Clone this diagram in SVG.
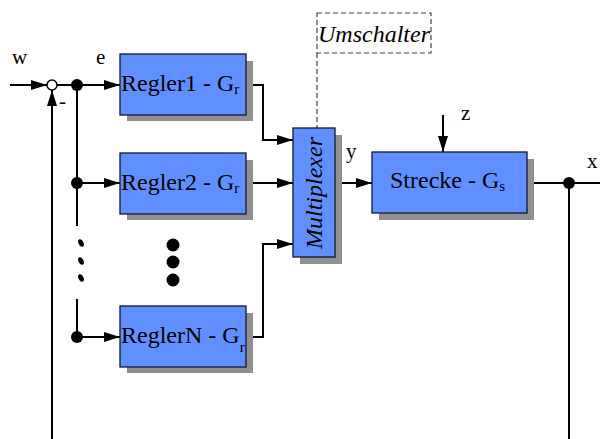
<svg xmlns="http://www.w3.org/2000/svg" width="600" height="439" viewBox="0 0 600 439">
<style>
.box{fill:#6090ff;stroke:#101830;stroke-width:1.3}
.sh{fill:#909090}
.ln{fill:none;stroke:#000;stroke-width:2}
.dash{fill:none;stroke:#444;stroke-width:1.2;stroke-dasharray:5,3}
.t{font-family:"Liberation Serif",serif;font-size:24px;fill:#000}
.lb{font-family:"Liberation Serif",serif;font-size:21px;fill:#000}
.sub{font-size:15px}
</style>
<defs>
<marker id="ah" viewBox="0 0 16 10" refX="16" refY="5" markerWidth="16" markerHeight="10" markerUnits="userSpaceOnUse" orient="auto">
<path d="M0,0 L16,5 L0,10 z" fill="#000"/>
</marker>
</defs>
<rect width="600" height="439" fill="#fff"/>
<g id="connectors">
<line class="ln" x1="10" y1="85" x2="47" y2="85" marker-end="url(#ah)"/>
<line class="ln" x1="52" y1="439" x2="52" y2="90" marker-end="url(#ah)"/>
<line class="ln" x1="57" y1="85" x2="120" y2="85" marker-end="url(#ah)"/>
<line class="ln" x1="77" y1="85" x2="77" y2="226"/>
<line class="ln" x1="77" y1="299" x2="77" y2="337"/>
<line class="ln" x1="77" y1="183" x2="120" y2="183" marker-end="url(#ah)"/>
<line class="ln" x1="77" y1="337" x2="120" y2="337" marker-end="url(#ah)"/>
<polyline class="ln" points="246,85 263,85 263,140 293,140" marker-end="url(#ah)"/>
<line class="ln" x1="246" y1="183" x2="293" y2="183" marker-end="url(#ah)"/>
<polyline class="ln" points="246,337 263,337 263,244 293,244" marker-end="url(#ah)"/>
<line class="ln" x1="335" y1="183" x2="372" y2="183" marker-end="url(#ah)"/>
<line class="ln" x1="443" y1="115" x2="443" y2="152" marker-end="url(#ah)"/>
<line class="ln" x1="527" y1="183" x2="600" y2="183"/>
<line class="ln" x1="569" y1="183" x2="569" y2="439"/>
<line class="dash" x1="317" y1="53" x2="317" y2="128"/>
<circle cx="52" cy="85" r="5" fill="#fff" stroke="#000" stroke-width="1.5"/>
<circle cx="77" cy="85" r="6" fill="#000"/>
<circle cx="77" cy="183" r="6" fill="#000"/>
<circle cx="77" cy="337" r="6" fill="#000"/>
<circle cx="569" cy="183" r="6" fill="#000"/>
<ellipse cx="81" cy="243" rx="2.5" ry="4" transform="rotate(-25 81 243)" fill="#000"/>
<ellipse cx="81" cy="261" rx="2.5" ry="4" transform="rotate(-25 81 261)" fill="#000"/>
<ellipse cx="81" cy="278" rx="2.5" ry="4" transform="rotate(-25 81 278)" fill="#000"/>
<circle cx="173" cy="245" r="6.5" fill="#000"/>
<circle cx="173" cy="262" r="6.5" fill="#000"/>
<circle cx="173" cy="280" r="6.5" fill="#000"/>
</g>
<g id="labels">
<text class="lb" x="12" y="64">w</text>
<text class="lb" x="96" y="64">e</text>
<text class="lb" x="59" y="108">-</text>
<text class="lb" x="346" y="158">y</text>
<text class="lb" x="461" y="120">z</text>
<text class="lb" x="587" y="168">x</text>
</g>
<g id="umschalter">
<rect class="dash" x="317" y="13" width="114" height="40"/>
<text class="t" x="374" y="42" text-anchor="middle" font-style="italic">Umschalter</text>
</g>
<g id="regler1">
<rect class="sh" x="127" y="61" width="126" height="60"/>
<rect class="box" x="120" y="54" width="126" height="61"/>
<text class="t" x="121" y="91">Regler1 - G<tspan class="sub" dy="3">r</tspan></text>
</g>
<g id="regler2">
<rect class="sh" x="127" y="160" width="126" height="60"/>
<rect class="box" x="120" y="153" width="126" height="61"/>
<text class="t" x="121" y="190">Regler2 - G<tspan class="sub" dy="3">r</tspan></text>
</g>
<g id="reglerN">
<rect class="sh" x="127" y="313" width="126" height="60"/>
<rect class="box" x="120" y="306" width="126" height="61"/>
<text class="t" x="121" y="343">ReglerN - G<tspan class="sub" dy="9">r</tspan></text>
</g>
<g id="multiplexer">
<rect class="sh" x="300" y="135" width="42" height="129"/>
<rect class="box" x="293" y="128" width="42" height="129"/>
<text class="t" transform="translate(322 193) rotate(-90)" text-anchor="middle" font-style="italic">Multiplexer</text>
</g>
<g id="strecke">
<rect class="sh" x="379" y="159" width="155" height="61"/>
<rect class="box" x="372" y="152" width="155" height="61"/>
<text class="t" x="390" y="188">Strecke - G<tspan class="sub" dy="3">s</tspan></text>
</g>
</svg>
